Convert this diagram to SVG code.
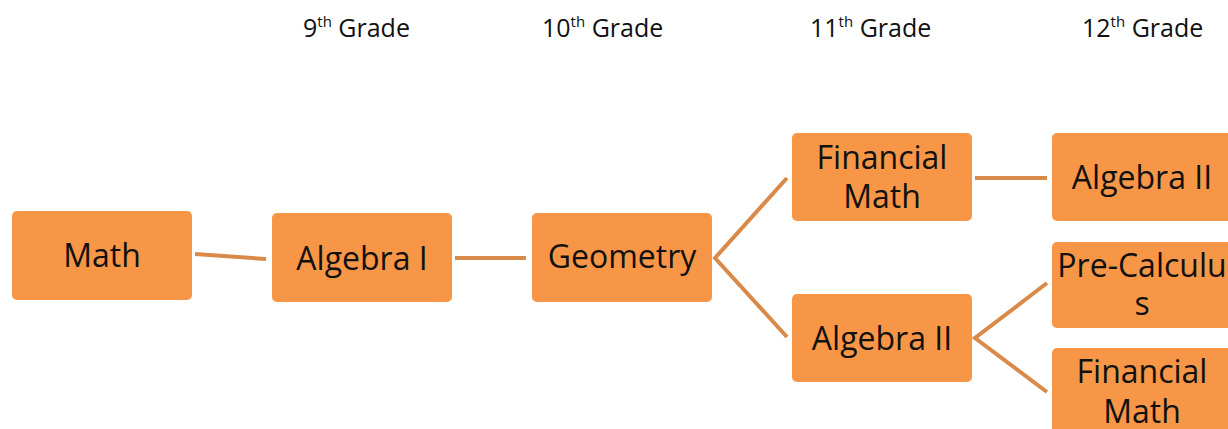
<svg xmlns="http://www.w3.org/2000/svg" width="1228" height="429" viewBox="0 0 1228 429">
<style>
.box{fill:#F79646;}
.t{font-family:"Open Sans",Lato,sans-serif;font-size:32px;fill:#111;text-anchor:middle;}
.h{font-family:"Open Sans",Lato,sans-serif;font-size:25px;fill:#111;}
.sup{font-size:15px;}
.c{stroke:#D98A48;stroke-width:4;fill:none;stroke-linejoin:miter;}
</style>
<rect width="1228" height="429" fill="#fff"/>
<g id="headers">
<text class="h" x="303" y="37">9<tspan class="sup" dy="-10">th</tspan><tspan dy="10"> Grade</tspan></text>
<text class="h" x="542" y="37">10<tspan class="sup" dy="-10">th</tspan><tspan dy="10"> Grade</tspan></text>
<text class="h" x="810" y="37">11<tspan class="sup" dy="-10">th</tspan><tspan dy="10"> Grade</tspan></text>
<text class="h" x="1082" y="37">12<tspan class="sup" dy="-10">th</tspan><tspan dy="10"> Grade</tspan></text>
</g>
<g id="connectors">
<path class="c" d="M195 254 L266 259"/>
<path class="c" d="M455 258 L526 258"/>
<path class="c" d="M787 178 L715 258 L787 337"/>
<path class="c" d="M975 178 L1047 178"/>
<path class="c" d="M1047 283 L975 338 L1047 392"/>
</g>
<g id="n-math"><rect class="box" x="12" y="211" width="180" height="89" rx="5"/><text class="t" x="102" y="267">Math</text></g>
<g id="n-alg1"><rect class="box" x="272" y="213" width="180" height="89" rx="5"/><text class="t" x="362" y="270">Algebra I</text></g>
<g id="n-geom"><rect class="box" x="532" y="213" width="180" height="89" rx="5"/><text class="t" x="622" y="268">Geometry</text></g>
<g id="n-fin11"><rect class="box" x="792" y="133" width="180" height="88" rx="5"/><text class="t" x="882" y="169">Financial</text><text class="t" x="882" y="208">Math</text></g>
<g id="n-alg2-11"><rect class="box" x="792" y="294" width="180" height="88" rx="5"/><text class="t" x="882" y="350">Algebra II</text></g>
<g id="n-alg2-12"><rect class="box" x="1052" y="133" width="180" height="88" rx="5"/><text class="t" x="1142" y="189">Algebra II</text></g>
<g id="n-precalc"><rect class="box" x="1052" y="242" width="180" height="86" rx="5"/><text class="t" x="1142" y="277">Pre-Calculu</text><text class="t" x="1142" y="315">s</text></g>
<g id="n-fin12"><rect class="box" x="1052" y="348" width="180" height="88" rx="5"/><text class="t" x="1142" y="383">Financial</text><text class="t" x="1142" y="423">Math</text></g>
</svg>
